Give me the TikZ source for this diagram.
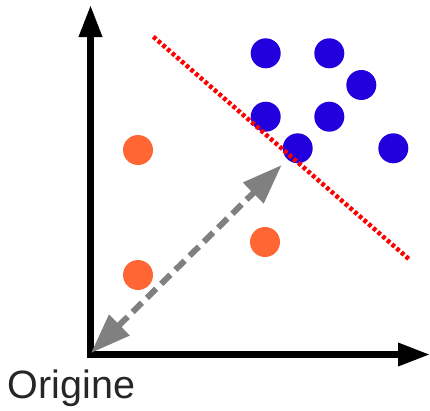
\documentclass[tikz,border=0pt]{standalone}
\usepackage{fontspec}
\setmainfont{Liberation Sans}
\usetikzlibrary{arrows.meta}
\definecolor{dotorange}{RGB}{255,102,51}
\definecolor{dotblue}{RGB}{34,0,221}
\definecolor{arrgray}{RGB}{128,128,128}
\begin{document}
\begin{tikzpicture}[x=1pt,y=-1pt,
  axis/.style={line width=6.5pt, line join=miter, {Triangle[length=32pt,width=22pt]}-{Triangle[length=32pt,width=22pt]}},
  odot/.style={circle, fill=dotorange, minimum size=30pt, inner sep=0pt},
  bdot/.style={circle, fill=dotblue, minimum size=30pt, inner sep=0pt},
  distarrow/.style={arrgray, line width=6pt, dash pattern=on 13pt off 7pt, {Triangle[length=40pt,width=28pt]}-{Triangle[length=40pt,width=28pt]}},
  sepline/.style={red, line width=4.5pt, dash pattern=on 3.7pt off 2.5pt},
  lbl/.style={font=\fontsize{39.5}{42}\selectfont, inner sep=0pt, text=black!85}]
\useasboundingbox (0,0) rectangle (430,410);
\coordinate (ytip) at (90.5,5);
\coordinate (corner) at (90.5,354.5);
\coordinate (xtip) at (430,354.5);
\draw[axis] (ytip) -- (corner) -- (xtip);
\coordinate (dstart) at (91,353);
\coordinate (dend) at (281.7,165);
\draw[distarrow] (dstart) -- (dend);
\node[odot] (o1) at (138,150) {};
\node[odot] (o2) at (265,242) {};
\node[odot] (o3) at (138,275) {};
\node[bdot] (b1) at (265.7,53.3) {};
\node[bdot] (b2) at (329.3,53.3) {};
\node[bdot] (b3) at (361.3,85) {};
\node[bdot] (b4) at (265.7,116.7) {};
\node[bdot] (b5) at (329.3,116.7) {};
\node[bdot] (b6) at (297.7,148.3) {};
\node[bdot] (b7) at (393.3,148.3) {};
\coordinate (s1) at (153.3,36.7);
\coordinate (s2) at (410,260);
\draw[sepline] (s1) -- (s2);
\node[lbl, anchor=base west] (orig) at (7.5,398) {Origine};
\end{tikzpicture}
\end{document}
